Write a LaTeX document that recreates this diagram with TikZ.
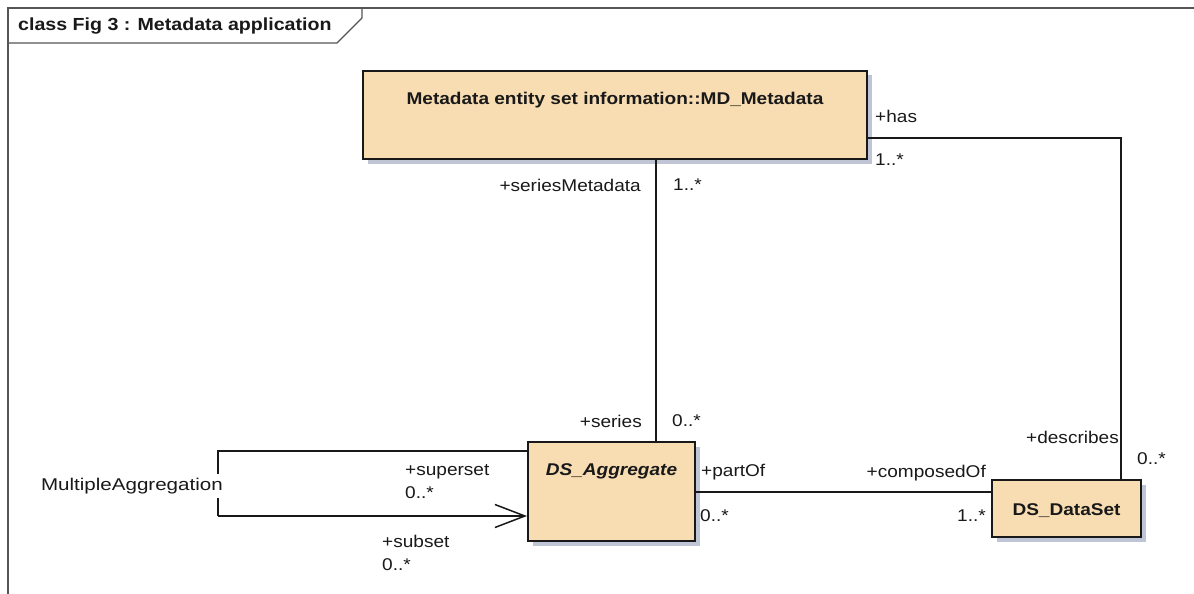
\documentclass[tikz,border=0pt]{standalone}
\usepackage{fontspec}
\usepackage{graphicx}
\setmainfont{Liberation Sans}[FakeStretch=1.12]
\usetikzlibrary{arrows.meta,calc}
\definecolor{classfill}{RGB}{248,221,179}
\definecolor{shadowc}{RGB}{192,197,214}
\definecolor{framec}{RGB}{85,85,85}
\definecolor{inkc}{RGB}{25,25,25}
\tikzset{
  umlclass/.style={draw=inkc, line width=2pt, fill=classfill, inner sep=0pt, anchor=north west},
  classname/.style={font=\fontsize{17}{20}\selectfont\bfseries, text=inkc, inner sep=0pt},
  role/.style={font=\fontsize{17}{20}\selectfont, text=inkc, inner sep=0pt},
  assoc/.style={draw=inkc, line width=1.5pt}
}
\begin{document}
\begin{tikzpicture}[x=1pt,y=-1pt]
\useasboundingbox (0,0) rectangle (1194,594);
\fill[white] (0,0) rectangle (1194,594);

% diagram frame with its name tab
\draw[framec, line width=1.5pt] (1194,8) -- (8,8) -- (8,594);
\draw[framec, line width=1.2pt] (8,43) -- (337,43) -- (362,18) -- (362,8);
\node[classname, font=\fontsize{17.5}{20}\selectfont\bfseries, anchor=west] (frametitle) at (18,26) {class Fig 3 : Metadata application};

% shadows of the classes
\fill[shadowc] (367.5,75.5) rectangle (871.5,163.5);
\fill[shadowc] (532.5,446.5) rectangle (699.5,545.5);
\fill[shadowc] (996.5,484.5) rectangle (1145.5,541.5);

% classes
\node[umlclass, minimum width=504pt, minimum height=88pt] (md) at (362,70) {};
\node[umlclass, minimum width=167pt, minimum height=99pt] (agg) at (527,441) {};
\node[umlclass, minimum width=149pt, minimum height=57pt] (ds) at (991,479) {};

\node[classname] (mdname) at ($(md.north)+(0,30)$) {Metadata entity set information::MD\_Metadata};
\node[classname, font=\fontsize{17}{20}\selectfont\bfseries\itshape] (aggname) at ($(agg.north)+(0,30)$) {DS\_Aggregate};
\node[classname] (dsname) at ($(ds.center)+(0,2)$) {DS\_DataSet};

% associations
\coordinate (mdbot) at (656,158);
\coordinate (aggtop) at (656,441);
\draw[assoc] (md.south -| mdbot) -- (agg.north -| aggtop);

\coordinate (mdright) at (866,138);
\coordinate (corner) at (1121,138);
\draw[assoc] (md.east |- mdright) -- (corner) -- (corner |- ds.north);

\coordinate (aggright) at (694,492);
\draw[assoc] (agg.east |- aggright) -- (ds.west |- aggright);

\coordinate (loopa) at (527,451);
\coordinate (loopb) at (527,516);
\coordinate (loopc) at (218,451);
\coordinate (loopd) at (218,516);
\draw[assoc] (agg.west |- loopa) -- (loopc) -- (loopd);
\draw[assoc, -{Straight Barb[length=30pt, width=23pt, line width=1.5pt]}] (loopd) -- (agg.west |- loopb);

% role names and multiplicities
\node[role, anchor=east] (r1) at (641,185) {+seriesMetadata};
\node[role, anchor=west] (m1) at (673,185) {1..*};
\node[role, anchor=east] (r2) at (642,421) {+series};
\node[role, anchor=west] (m2) at (672,421) {0..*};

\node[role, anchor=west] (r3) at (875,116) {+has};
\node[role, anchor=west] (m3) at (875,160) {1..*};
\node[role, anchor=east] (r4) at (1119,437) {+describes};
\node[role, anchor=west] (m4) at (1137,459) {0..*};

\node[role, anchor=west] (r5) at (701,472) {+partOf};
\node[role, anchor=west] (m5) at (700,516) {0..*};
\node[role, anchor=east] (r6) at (986,473) {+composedOf};
\node[role, anchor=east] (m6) at (986,516) {1..*};

\node[role, anchor=east, fill=white, inner xsep=0pt, inner ysep=4pt] (loopname) at (223,486) {\scalebox{1.08}[1]{MultipleAggregation}};
\node[role, anchor=west] (r7) at (405,472) {+superset};
\node[role, anchor=west] (m7) at (405,493) {0..*};
\node[role, anchor=west] (r8) at (382,541) {+subset};
\node[role, anchor=west] (m8) at (382,565) {0..*};
\end{tikzpicture}
\end{document}
